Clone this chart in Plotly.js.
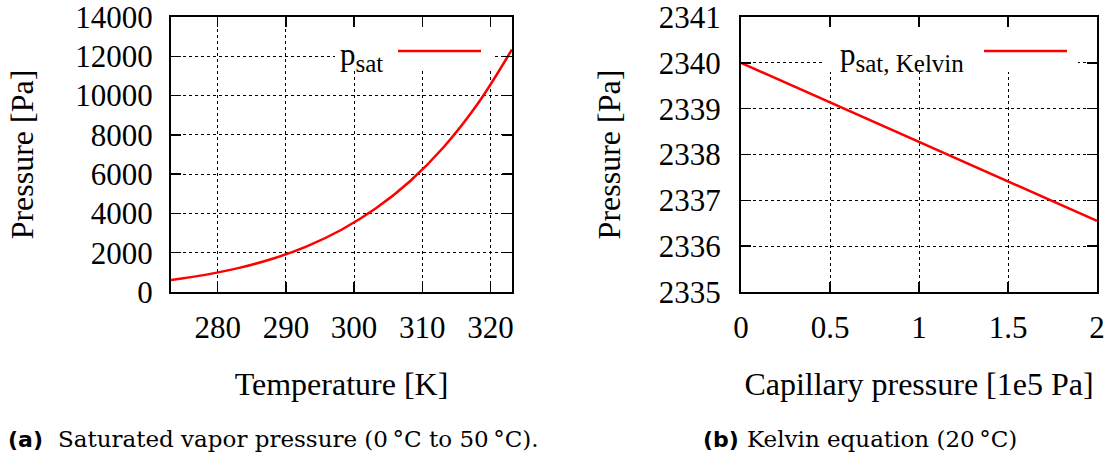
<!DOCTYPE html>
<html>
<head>
<meta charset="utf-8">
<script src="https://cdn.plot.ly/plotly-3.0.1.min.js"></script>
<style>html,body{margin:0;padding:0;background:#fff;}#chart{width:1114px;height:460px;}</style>
</head>
<body>
<div id="chart"></div>
<script>
// ---- data ----
const tempK = [273.15, 278.15, 283.15, 288.15, 293.15, 298.15, 303.15, 308.15, 313.15, 318.15, 323.15];
const psat = [611, 872, 1228, 1705, 2339, 3169, 4246, 5628, 7384, 9593, 12350];
const capPressure = [0, 0.5, 1, 1.5, 2];
const psatKelvin = [2340, 2339.14, 2338.27, 2337.41, 2336.55];
const seriesNames = ['p<sub><span style="font-size:25px">sat</span></sub>', 'p<sub><span style="font-size:25px">sat, Kelvin</span></sub>'];
const xTitles = ['Temperature [K]', 'Capillary pressure [1e5 Pa]'];
const yTitle = 'Pressure [Pa]';
const captions = ['Saturated vapor pressure (0\u2009°C to 50\u2009°C).', 'Kelvin equation (20\u2009°C)'];
const captionTags = ['(a)', '(b)'];

const W = 1114, H = 460;
const serif = 'Liberation Serif';
const capFont = 'DejaVu Serif, Liberation Serif';
const FS = 31;
const red = '#ff0000';

const px = v => v / W;
const py = v => 1 - v / H;

function axisBase() {
  return {
    showline: true, linecolor: '#000', linewidth: 2, mirror: 'ticks',
    ticks: 'inside', ticklen: 10, tickwidth: 1.5, tickcolor: '#000',
    showgrid: true, gridcolor: '#000', gridwidth: 1, griddash: 'dot',
    zeroline: false, tickfont: {family: serif, size: FS, color: '#000'},
    ticklabeloverflow: 'allow', fixedrange: true
  };
}

const traces = [
  {x: tempK, y: psat, type: 'scatter', mode: 'lines', line: {color: red, width: 2.5, shape: 'spline'},
   name: 'psat', xaxis: 'x', yaxis: 'y', showlegend: false, hoverinfo: 'skip'},
  {x: capPressure, y: psatKelvin, type: 'scatter', mode: 'lines', line: {color: red, width: 2.5},
   name: 'psat, Kelvin', xaxis: 'x2', yaxis: 'y2', showlegend: false, hoverinfo: 'skip'}
];

const yDom = [py(292), py(17)];
const titleFont = {family: serif, size: 32, color: '#000'};

const layout = {
  width: W, height: H,
  margin: {l: 0, r: 0, t: 0, b: 0},
  paper_bgcolor: '#fff', plot_bgcolor: '#fff',
  showlegend: false,
  xaxis: Object.assign(axisBase(), {domain: [px(171), px(512)], range: [273.15, 323.15], tick0: 280, dtick: 10,
    anchor: 'y', ticklabelstandoff: 7,
    title: {text: xTitles[0], font: titleFont, standoff: 28}}),
  yaxis: Object.assign(axisBase(), {domain: yDom, range: [0, 14000], tick0: 0, dtick: 2000, tickformat: 'd',
    anchor: 'x', ticklabelstandoff: 10,
    title: {text: yTitle, font: titleFont, standoff: 32}}),
  xaxis2: Object.assign(axisBase(), {domain: [px(741), px(1097)], range: [0, 2], tick0: 0, dtick: 0.5,
    anchor: 'y2', ticklabelstandoff: 7,
    title: {text: xTitles[1], font: titleFont, standoff: 28}}),
  yaxis2: Object.assign(axisBase(), {domain: yDom, range: [2335, 2341], tick0: 2335, dtick: 1, tickformat: 'd',
    anchor: 'x2', ticklabelstandoff: 12,
    title: {text: yTitle, font: titleFont, standoff: 29}}),
  shapes: [
    // legend backgrounds (hide grid behind keys)
    {type: 'rect', xref: 'paper', yref: 'paper', x0: px(335), x1: px(495), y0: py(71), y1: py(28),
     fillcolor: '#fff', line: {width: 0}, layer: 'above'},
    {type: 'rect', xref: 'paper', yref: 'paper', x0: px(823), x1: px(1078), y0: py(72), y1: py(28),
     fillcolor: '#fff', line: {width: 0}, layer: 'above'},
    // legend key lines
    {type: 'line', xref: 'paper', yref: 'paper', x0: px(398), x1: px(481), y0: py(51), y1: py(51), line: {color: red, width: 2.5}, layer: 'above'},
    {type: 'line', xref: 'paper', yref: 'paper', x0: px(984), x1: px(1067), y0: py(51), y1: py(51), line: {color: red, width: 2.5}, layer: 'above'}
  ],
  annotations: [
    {xref: 'paper', yref: 'paper', x: px(385), y: py(57), xanchor: 'right', yanchor: 'middle', showarrow: false,
     text: seriesNames[0], font: {family: serif, size: FS, color: '#000'}},
    {xref: 'paper', yref: 'paper', x: px(966), y: py(57), xanchor: 'right', yanchor: 'middle', showarrow: false,
     text: seriesNames[1], font: {family: serif, size: FS, color: '#000'}},
    {xref: 'paper', yref: 'paper', x: px(6), y: py(439), xanchor: 'left', yanchor: 'middle', showarrow: false,
     text: captionTags[0], font: {family: 'DejaVu Sans', size: 22, color: '#000', weight: 'bold'}},
    {xref: 'paper', yref: 'paper', x: px(56), y: py(439), xanchor: 'left', yanchor: 'middle', showarrow: false,
     text: captions[0], font: {family: capFont, size: 23, color: '#000'}},
    {xref: 'paper', yref: 'paper', x: px(701), y: py(439), xanchor: 'left', yanchor: 'middle', showarrow: false,
     text: captionTags[1], font: {family: 'DejaVu Sans', size: 22, color: '#000', weight: 'bold'}},
    {xref: 'paper', yref: 'paper', x: px(745), y: py(439), xanchor: 'left', yanchor: 'middle', showarrow: false,
     text: captions[1], font: {family: capFont, size: 23, color: '#000'}}
  ]
};

Plotly.newPlot('chart', traces, layout, {staticPlot: true, displayModeBar: false});
</script>
</body>
</html>
